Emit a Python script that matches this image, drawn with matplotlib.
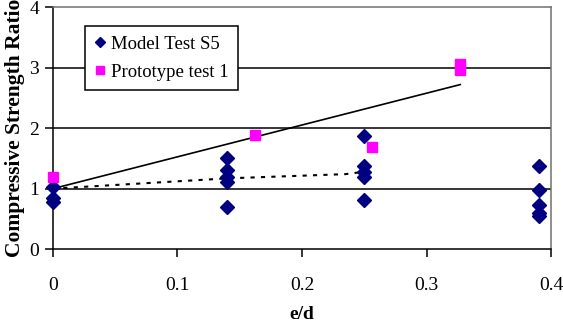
import matplotlib
matplotlib.use("Agg")
from matplotlib import pyplot as plt

plt.rcParams['font.family'] = ['Liberation Serif', 'DejaVu Serif']

# Model Test S5 (e/d, ratio)
model_x = [0, 0, 0, 0.14, 0.14, 0.14, 0.14, 0.14, 0.25, 0.25, 0.25, 0.25, 0.25,
           0.39, 0.39, 0.39, 0.39, 0.39]
model_y = [1.03, 0.85, 0.78, 1.50, 1.31, 1.20, 1.11, 0.70, 1.87, 1.37, 1.28, 1.20, 0.82,
           1.37, 0.97, 0.73, 0.60, 0.54]

# Prototype test 1
proto_x = [0, 0.162, 0.256, 0.327, 0.327]
proto_y = [1.20, 1.88, 1.69, 3.06, 2.96]

# trend lines
fit_x = [0, 0.327]
fit_y = [1.0, 2.72]
mean_x = [0, 0.14, 0.235, 0.25]
mean_y = [1.0, 1.17, 1.24, 1.28]

fig = plt.figure(figsize=(5.63, 3.24), dpi=100)
ax = fig.add_axes([0.094, 0.231, 0.885, 0.747])

for v in [1, 2, 3]:
    ax.axhline(v, color='black', lw=1.1, zorder=1)

ax.plot(fit_x, fit_y, color='black', lw=1.2, zorder=2)
ax.plot(mean_x, mean_y, color='black', lw=1.5, linestyle=(0, (2, 3)), zorder=2)

ax.plot(model_x, model_y, 'D', color='#000080', ms=7, ls='none', label='Model Test S5',
        zorder=3, clip_on=False)
ax.plot(proto_x, proto_y, 's', color='#FF00FF', ms=7, ls='none', label='Prototype test 1',
        zorder=3, clip_on=False)

ax.set_xlim(0, 0.4)
ax.set_ylim(0, 4)
ax.set_xticks([0, 0.1, 0.2, 0.3, 0.4])
ax.set_xticklabels(['0', '0.1', '0.2', '0.3', '0.4'])
ax.set_yticks([0, 1, 2, 3, 4])
ax.tick_params(axis='both', direction='out', length=6, width=1.1, labelsize=14, colors='black')
ax.tick_params(axis='x', pad=14)
ax.tick_params(axis='y', pad=4)

for s in ['left', 'bottom']:
    ax.spines[s].set_color('black')
    ax.spines[s].set_linewidth(1.1)
for s in ['top', 'right']:
    ax.spines[s].set_color('#707070')
    ax.spines[s].set_linewidth(1.1)

ax.set_ylabel('Compressive Strength Ratio', fontsize=15.5, fontweight='bold', labelpad=3)
ax.set_xlabel('e/d', fontsize=14, fontweight='bold', labelpad=9)

leg = ax.legend(loc='upper left', bbox_to_anchor=(0.064, 0.922), fontsize=13.5,
                frameon=True, fancybox=False, edgecolor='black', framealpha=1,
                handlelength=0.6, handletextpad=0.3, borderpad=0.5, labelspacing=0.6,
                borderaxespad=0, markerscale=0.75)
leg.get_frame().set_linewidth(1.1)

fig.savefig('out.png', dpi=100)
